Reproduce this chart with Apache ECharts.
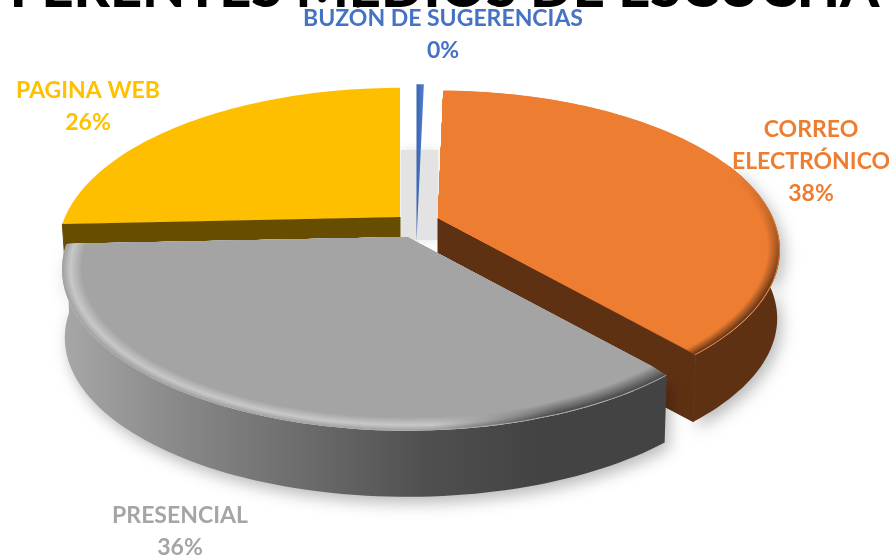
<!DOCTYPE html>
<html><head><meta charset="utf-8">
<style>html,body{margin:0;padding:0;background:#fff}#c{width:889px;height:560px}</style>
<script src="https://cdn.jsdelivr.net/npm/echarts@6/dist/echarts.min.js"></script>
</head><body><div id="c"></div>
<script>
// Data
const categories = ['BUZÓN DE SUGERENCIAS', 'CORREO ELECTRÓNICO', 'PRESENCIAL', 'PAGINA WEB'];
const shares = [0.3, 38.4, 35.6, 25.7];
const titleText = 'FERENTES MEDIOS DE ESCUCHA';

// Drawing style per slice
const labelLines = [['BUZÓN DE SUGERENCIAS'], ['CORREO', 'ELECTRÓNICO'], ['PRESENCIAL'], ['PAGINA WEB']];
const looks = [
  {cx: 416.5, cy: 241, R: 470, k: 188, z: 3, face: '#4472c4', color: '#4472c4', lx: 443, ly: 19},
  {cx: 438, cy: 218, R: 335, k: 153, z: 20, face: '#ed7d31', wall: '#5f3113', outer: true, cut: 'end', color: '#ed7d31', lx: 811, ly: 130, rim: 'orange'},
  {cx: 407, cy: 237, R: 338, k: 155, z: 40, face: '#a4a4a4', wall: 'gray', outer: true, color: '#a5a5a5', lx: 180, ly: 516, rim: 'gray'},
  {cx: 400, cy: 217, R: 335, k: 155, z: 10, face: '#fdbf00', wall: '#674d00', cut: 'start', depth: 40, color: '#ffc000', lx: 88, ly: 91}
];
const P = 0.2, ZSX = 0.992, ZSY = 0.985, DEPTH = 69, STEP = 1.5;
const FRONT_FROM = 1.2, FRONT_TO = 5.1; // part of the rim that casts a shadow (radians from top)
const LG = echarts.graphic.LinearGradient;

function proj(L, th, bx, by) {
  const x = Math.sin(th), y = -Math.cos(th), s = 1 / (1 - P * y);
  return [x * s * (L.R - (bx || 0)), y * s * (L.k - (by || 0))];
}
const rel = (L, q) => [L.cx + q[0], L.cy + q[1]];
const low = (L, q) => [L.cx + q[0] * ZSX, L.cy + q[1] * ZSY + (L.depth || DEPTH)];

function arc(L, a, b, bx, by) {
  const out = [], n = Math.max(2, Math.ceil((b - a) * 180 / Math.PI / STEP));
  for (let i = 0; i <= n; i++) out.push(proj(L, a + (b - a) * i / n, bx, by));
  return out;
}
function mix(a, b, t) {
  const h = c => [1, 3, 5].map(i => parseInt(c.substr(i, 2), 16));
  const A = h(a), B = h(b);
  return 'rgb(' + A.map((v, i) => Math.round(v + (B[i] - v) * t)).join(',') + ')';
}
function rimColor(L, i, n) {
  const t = i / n;
  if (L.rim === 'orange') {
    const c = mix('#5f3113', '#ed7d31', Math.min(1, t * 1.1));
    return new LG(0, 175, 0, 290, [{offset: 0, color: '#ed7d31'}, {offset: 1, color: c}], true);
  }
  const hl = t < 0.4 ? mix('#a0a0a0', '#c8c8c8', t / 0.4) : mix('#c8c8c8', '#a4a4a4', (t - 0.4) / 0.6);
  const dk = mix('#454545', '#a4a4a4', t);
  return new LG(60, 0, 680, 0, [{offset: 0, color: hl}, {offset: 0.6, color: hl}, {offset: 0.8, color: dk}, {offset: 1, color: dk}], true);
}

const total = shares.reduce((a, b) => a + b, 0);
function sliceAngles(i) {
  let a = 0;
  for (let j = 0; j < i; j++) a += shares[j];
  return [a / total * 2 * Math.PI, (a + shares[i]) / total * 2 * Math.PI];
}

function renderItem(params, api) {
  const i = params.dataIndex, L = looks[i], [a, b] = sliceAngles(i);
  const kids = [];
  const center = [L.cx, L.cy];
  const top = arc(L, a, b);
  const poly = (pts, fill, z, extra) => kids.push({type: 'polygon', z2: z, shape: {points: pts}, style: Object.assign({fill: fill}, extra || {})});

  if (i === 0) {
    poly([[401, 150], [438, 150], [438, 240], [401, 240]], '#e3e3e3', 1, {shadowBlur: 10, shadowColor: '#e3e3e3'});
  }
  if (L.wall) {
    const wallFill = L.wall === 'gray'
      ? new LG(60, 0, 620, 0, [{offset: 0, color: '#a8a8a8'}, {offset: 0.2, color: '#8a8a8a'}, {offset: 0.45, color: '#6a6a6a'}, {offset: 0.65, color: '#505050'}, {offset: 0.85, color: '#434343'}, {offset: 1, color: '#434343'}], true)
      : L.wall;
    if (L.outer) {
      const f = arc(L, Math.max(a, FRONT_FROM), Math.min(b, FRONT_TO));
      const upper = f.map(q => rel(L, q));
      const lower = f.map(q => low(L, q)).reverse();
      poly(upper.concat(lower), wallFill, L.z, {shadowBlur: 16, shadowColor: 'rgba(0,0,0,0.28)', shadowOffsetX: 4, shadowOffsetY: 6});
    }
    if (L.cut) {
      const end = L.cut === 'end' ? top[top.length - 1] : top[0];
      poly([center, rel(L, end), low(L, end), [L.cx, L.cy + (L.depth || DEPTH)]], wallFill, L.z + 1, {stroke: wallFill, lineWidth: 1});
    }
  }
  poly([center].concat(top.map(q => rel(L, q))), L.face, L.z + 2,
    i === 0 ? {fill: new LG(L.cx, 0, L.cx + 7, 0, [{offset: 0, color: '#3a64b0'}, {offset: 1, color: '#4f7fd0'}], true)} : {});
  if (L.rim) {
    const n = 16, width = L.rim === 'gray' ? 19 : 13;
    for (let k = 1; k <= n; k++) {
      const d = width * k / n;
      const pts = arc(L, a, b, d, d * 0.55).map(q => rel(L, q));
      poly([center].concat(pts), k === n ? L.face : rimColor(L, k, n), L.z + 2 + k / 100);
    }
  }
  // labels
  const lines = labelLines[i].concat([Math.round(shares[i] / total * 100) + '%']);
  lines.forEach((t, j) => kids.push({
    type: 'text', z2: 100,
    style: {x: L.lx, y: L.ly + j * 32, text: t, fill: L.color, font: 'bold 23px Lato', align: 'center', verticalAlign: 'middle'}
  }));
  return {type: 'group', children: kids};
}

const chart = echarts.init(document.getElementById('c'), null, {renderer: 'canvas'});
chart.setOption({
  animation: false,
  backgroundColor: '#ffffff',
  title: {
    text: titleText, left: 'center', top: -44,
    textStyle: {fontFamily: 'Lato', fontWeight: 900, fontSize: 56, color: '#000'}
  },
  series: [{
    type: 'custom', coordinateSystem: 'none', silent: true,
    renderItem: renderItem,
    data: categories.map((n, i) => ({name: n, value: shares[i]}))
  }]
});
</script></body></html>
